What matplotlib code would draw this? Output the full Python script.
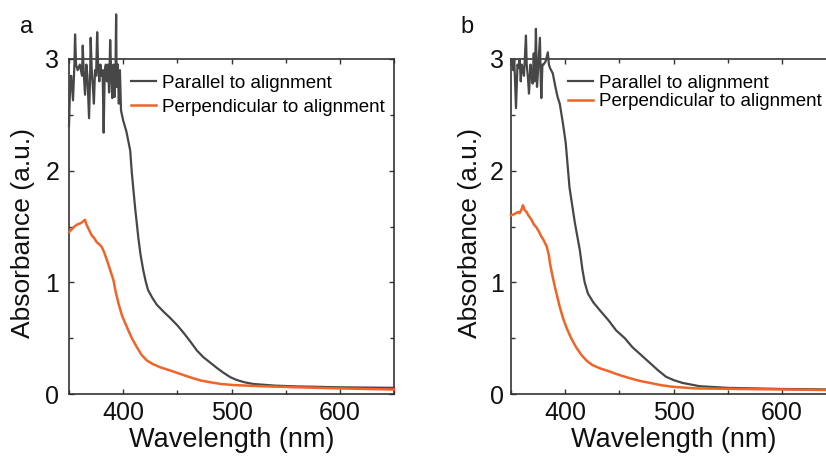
import matplotlib
matplotlib.use("Agg")
import matplotlib.pyplot as plt
from matplotlib.ticker import MultipleLocator

plt.rcParams['font.family'] = ['Liberation Sans', 'DejaVu Sans']

# ---------------- data ----------------
# Panel a: parallel to alignment
a_par_wl = [350, 351, 352, 353.7, 355, 355.6, 356.5, 358, 360, 362, 362.7, 363.5, 364.8, 366, 367,
            368.5, 369.5, 370, 371, 372, 373, 374, 375, 376, 377, 378, 379, 380, 381, 382, 383,
            384, 385, 386, 387, 388, 389, 390, 391, 392, 393, 393.5, 394, 395, 396, 397, 398,
            400, 403, 406.5, 408, 411, 414, 416, 418.5, 421, 423, 427, 431, 437, 443.5, 450,
            455.6, 462, 468, 474, 480.5, 487, 492.6, 499, 505, 512, 520, 540, 560, 600, 650]
a_par_abs = [2.40, 2.75, 2.85, 2.63, 2.95, 3.22, 2.95, 2.90, 2.95, 2.85, 3.12, 2.90, 2.68, 2.95, 2.85,
             2.47, 2.85, 3.19, 2.90, 2.75, 2.60, 2.90, 2.85, 3.24, 2.90, 2.80, 2.95, 2.85, 2.90, 2.34, 2.90,
             2.95, 2.80, 2.95, 2.70, 3.17, 2.85, 2.65, 2.95, 2.66, 2.95, 3.40, 2.75, 2.95, 2.60, 2.90, 2.54,
             2.45, 2.35, 2.18, 1.98, 1.67, 1.40, 1.25, 1.11, 1.00, 0.93, 0.86, 0.80, 0.74, 0.68, 0.615,
             0.55, 0.47, 0.39, 0.33, 0.28, 0.23, 0.19, 0.15, 0.125, 0.105, 0.09, 0.075, 0.068, 0.06, 0.055]

# Panel a: perpendicular to alignment
a_perp_wl = [350, 352, 355, 358, 361, 364.8, 366, 368, 371, 373, 375.6, 378, 380, 382, 385, 388,
             391, 393, 395.7, 399, 403.4, 408, 412.6, 417, 421.9, 427, 434, 442, 449.7, 457, 465,
             472, 480.5, 490, 502, 527, 560, 600, 650]
a_perp_abs = [1.45, 1.47, 1.50, 1.52, 1.53, 1.56, 1.52, 1.48, 1.42, 1.40, 1.36, 1.34, 1.32, 1.28, 1.20, 1.11,
              1.02, 0.92, 0.81, 0.70, 0.60, 0.50, 0.42, 0.35, 0.30, 0.27, 0.24, 0.215, 0.19, 0.165, 0.14,
              0.12, 0.105, 0.09, 0.08, 0.07, 0.06, 0.05, 0.04]

# Panel b: parallel to alignment
b_par_wl = [350, 351, 352, 353, 354.6, 356, 357, 358, 359, 360, 362, 363.8, 364.5, 365.5, 366.6,
            368, 369, 370, 371, 372, 373, 374, 375, 376.7, 377.5, 378, 379, 380, 382, 384, 385,
            386, 388.6, 391, 393, 395, 398, 400.5, 404, 409, 413.5, 416, 418, 421, 426, 432,
            440, 447, 455, 462, 470, 478, 486, 493, 500, 508, 524, 550, 600, 650]
b_par_abs = [2.95, 3.00, 2.90, 3.00, 2.56, 2.95, 2.92, 3.00, 2.80, 2.95, 2.85, 3.21, 2.95, 2.85, 2.69,
             2.95, 2.85, 2.78, 3.05, 2.80, 3.27, 2.75, 2.90, 3.19, 2.80, 2.65, 2.95, 2.95, 2.98, 3.06, 2.95,
             2.92, 2.87, 2.75, 2.66, 2.60, 2.42, 2.25, 1.85, 1.53, 1.29, 1.11, 1.00, 0.90, 0.82, 0.75,
             0.66, 0.57, 0.50, 0.42, 0.35, 0.28, 0.21, 0.155, 0.125, 0.10, 0.07, 0.055, 0.045, 0.04]

# Panel b: perpendicular to alignment
b_perp_wl = [350, 353, 356.5, 358, 360, 361, 362.5, 364.4, 366, 369, 371, 373.6, 376, 378, 380, 383,
             385, 386, 388, 390.5, 393, 395, 398, 401, 405, 410, 415, 419.6, 425, 432, 440, 447,
             455, 462, 470, 478, 488, 499, 520, 560, 650]
b_perp_abs = [1.60, 1.61, 1.63, 1.62, 1.66, 1.69, 1.65, 1.63, 1.60, 1.56, 1.52, 1.49, 1.45, 1.41, 1.38, 1.32,
              1.24, 1.17, 1.07, 0.96, 0.86, 0.78, 0.68, 0.60, 0.51, 0.42, 0.35, 0.30, 0.26, 0.23, 0.205, 0.18,
              0.155, 0.135, 0.115, 0.10, 0.08, 0.065, 0.05, 0.045, 0.035]

labels = ["Parallel to alignment", "Perpendicular to alignment"]
panel_letters = ["a", "b"]
x_ticks = [400, 500, 600]
y_ticks = [0, 1, 2, 3]

GRAY = "#474747"
ORANGE = "#f06428"

fig = plt.figure(figsize=(8.26, 4.57), dpi=100)
W, H = 826, 457

def make_axes(left_px):
    return fig.add_axes([left_px / W, (H - 394) / H, 325 / W, 335 / H])

ax_a = make_axes(69)
ax_b = make_axes(511)

panels = [
    (ax_a, a_par_wl, a_par_abs, a_perp_wl, a_perp_abs),
    (ax_b, b_par_wl, b_par_abs, b_perp_wl, b_perp_abs),
]

for i, (ax, pw, pa, qw, qa) in enumerate(panels):
    ax.plot(pw, pa, color=GRAY, lw=1.6, label=labels[0], clip_on=False, zorder=3)
    ax.plot(qw, qa, color=ORANGE, lw=1.8, label=labels[1], clip_on=False, zorder=3)
    ax.set_xlim(350, 650)
    ax.set_ylim(0, 3)
    ax.set_xticks(x_ticks)
    ax.set_yticks(y_ticks)
    ax.xaxis.set_minor_locator(MultipleLocator(50))
    ax.yaxis.set_minor_locator(MultipleLocator(0.5))
    ax.tick_params(which='both', direction='in', top=True, right=True, width=1.0, color="#333333")
    ax.tick_params(which='major', length=3.6, labelsize=18, labelcolor="#111111")
    ax.tick_params(which='minor', length=3.0)
    ax.tick_params(axis='x', pad=5)
    for s in ax.spines.values():
        s.set_linewidth(1.2)
        s.set_color("#333333")
    ax.set_xlabel("Wavelength (nm)", fontsize=19.5, labelpad=1.5, color="#111111")
    ax.set_ylabel("Absorbance (a.u.)", fontsize=19, color="#111111")

ax_a.tick_params(axis='y', pad=7)
ax_b.tick_params(axis='y', pad=5)
ax_a.yaxis.set_label_coords(-0.105, 0.48)
ax_b.yaxis.set_label_coords(-0.09, 0.48)

ax_a.legend(loc='upper left', bbox_to_anchor=(0.19, 0.953), frameon=False, fontsize=13.5,
            handlelength=1.35, handletextpad=0.3, labelspacing=0.36, borderpad=0, borderaxespad=0)
ax_b.legend(loc='upper left', bbox_to_anchor=(0.175, 0.953), frameon=False, fontsize=13.5,
            handlelength=1.35, handletextpad=0.3, labelspacing=0.06, borderpad=0, borderaxespad=0)

fig.text(20 / W, 1 - 33 / H, panel_letters[0], fontsize=17, color="#111111", va='baseline', ha='left')
fig.text(460 / W, 1 - 33 / H, panel_letters[1], fontsize=17, color="#111111", va='baseline', ha='left')

fig.savefig("out.png", dpi=100, facecolor="white")
